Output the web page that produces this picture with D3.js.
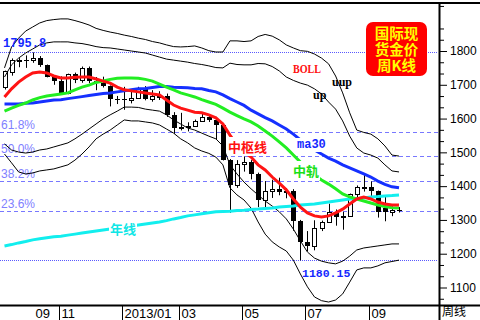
<!DOCTYPE html>
<html>
<head>
<meta charset="utf-8">
<title>国际现货金价周K线</title>
<script src="https://cdnjs.cloudflare.com/ajax/libs/d3/7.8.5/d3.min.js"></script>
<style>
  body { margin: 0; background: #fff; }
  svg { display: block; }
  .yax text { font: 12px Arial, "Liberation Sans", sans-serif; fill: #000; }
  .mon { font: 13px Arial, "Liberation Sans", sans-serif; fill: #000; }
</style>
</head>
<body>
<script>
// weekly bars (week ending), last one is the running week
var weeks = ["2012-09-07","2012-09-14","2012-09-21","2012-09-28","2012-10-05","2012-10-12","2012-10-19","2012-10-26",
  "2012-11-02","2012-11-09","2012-11-16","2012-11-23","2012-11-30","2012-12-07","2012-12-14","2012-12-21","2012-12-28",
  "2013-01-04","2013-01-11","2013-01-18","2013-01-25","2013-02-01","2013-02-08","2013-02-15","2013-02-22",
  "2013-03-01","2013-03-08","2013-03-15","2013-03-22","2013-03-29","2013-04-05","2013-04-12","2013-04-19","2013-04-26",
  "2013-05-03","2013-05-10","2013-05-17","2013-05-24","2013-05-31","2013-06-07","2013-06-14","2013-06-21","2013-06-28",
  "2013-07-05","2013-07-12","2013-07-19","2013-07-26","2013-08-02","2013-08-09","2013-08-16","2013-08-23","2013-08-30",
  "2013-09-06","2013-09-13","2013-09-20","2013-09-27","2013-09-30"];

var open  = [1693,1739,1770,1773,1772,1780,1758,1724,1712,1676,1731,1713,1751,1712,1705,1696,1657,1657,1656,1662,1687,1658,1667,1667,1610,1573,1576,1577,1592,1606,1596,1580,1477,1403,1467,1470,1437,1360,1386,1393,1383,1387,1297,1234,1223,1277,1295,1322,1310,1313,1377,1396,1396,1386,1334,1324,1330];
var high  = [1742,1778,1779,1787,1795.8,1785,1760,1727,1725,1733,1736,1754,1754,1723,1724,1698,1667,1694,1679,1694,1696,1684,1681,1674,1619,1617,1589,1597,1617,1612,1605,1587,1480,1477,1488,1477,1440,1415,1419,1425,1394,1391,1300,1267,1299,1298,1348,1331,1324,1378,1402,1434,1414,1387,1372,1340,1338];
var low   = [1686,1727,1752,1750,1765,1753,1722,1700,1675,1672,1705,1706,1705,1684,1692,1636,1643,1626,1645,1660,1654,1650,1655,1605,1555,1565,1562,1575,1590,1590,1539,1476,1321,1395,1443,1420,1338,1338,1365,1373,1364,1268,1180.15,1207,1210,1267,1292,1283,1271,1313,1361,1384,1364,1307,1296,1311,1322];
var close = [1740,1772,1773,1772,1780,1758,1724,1712,1676,1731,1713,1751,1712,1705,1696,1657,1656,1656,1662,1687,1658,1667,1667,1610,1573,1576,1577,1592,1606,1596,1580,1477,1403,1467,1470,1437,1360,1386,1393,1383,1387,1297,1234,1223,1277,1295,1322,1310,1313,1377,1396,1396,1386,1322,1324,1330,1328];

// BOLL: outer upper (uup), upper (up), middle (中轨), lower, outer lower
var bollUUp = [1750,1812,1838,1859,1871,1883,1890,1893,1895,1895,1890,1884,1877,1867,1861,1856,1852,1847,1843,1838,1834,1828,1824,1818,1813,1812,1813,1815,1809,1801,1797,1797,1830,1830,1828,1830,1843,1849,1844,1833,1818,1809,1801,1799,1791,1779,1762,1726,1676,1617,1566,1559,1554,1540,1519,1492,1489];
var bollUp  = [1723,1759,1779,1794,1806,1818,1824,1827,1827,1827,1824,1822,1818,1813,1810,1809,1806,1803,1800,1797,1794,1788,1782,1776,1773,1770,1767,1763,1760,1756,1751,1750,1764,1760,1759,1759,1763,1762,1754,1741,1723,1713,1705,1699,1688,1673,1649,1628,1593,1548,1513,1498,1492,1483,1463,1445,1442];
var bollMid = [1622,1631,1639,1646,1655,1662,1667,1670,1673,1676,1685,1693,1699,1707,1711,1716,1719,1720,1720,1719,1716,1711,1702,1693,1685,1676,1670,1664,1656,1649,1642,1631,1619,1609,1599,1590,1578,1563,1548,1531,1513,1492,1471,1451,1433,1418,1406,1392,1377,1368,1362,1356,1350,1344,1340,1336,1335];
var bollDn  = [1525,1507,1501,1498,1501,1507,1510,1516,1522,1528,1540,1554,1569,1584,1599,1611,1622,1634,1634,1633,1628,1625,1622,1611,1596,1584,1572,1566,1557,1548,1540,1519,1463,1436,1412,1392,1374,1356,1341,1324,1303,1273,1238,1205,1187,1178,1173,1170,1178,1193,1211,1217,1220,1223,1226,1229,1229];
var bollDDn = [1495,1469,1442,1436,1439,1445,1448,1451,1457,1463,1477,1495,1516,1540,1554,1566,1581,1596,1593,1593,1590,1587,1581,1569,1557,1540,1528,1513,1504,1497,1486,1463,1395,1374,1359,1335,1294,1258,1235,1220,1208,1181,1140,1102,1072,1061,1057,1063,1081,1116,1152,1158,1158,1164,1173,1177,1181];

var maRed  = [1664,1688,1708,1723,1735,1738,1735,1726,1720,1720,1722,1723,1723,1717,1711,1705,1693,1685,1682,1679,1676,1673,1670,1655,1640,1631,1625,1619,1617,1611,1602,1584,1551,1522,1501,1486,1463,1448,1427,1409,1389,1362,1338,1321,1312,1309,1312,1321,1332,1347,1362,1368,1362,1353,1347,1344,1344];
var ma30   = [1643,1643,1643,1645,1646,1649,1652,1655,1656,1659,1662,1665,1668,1671,1674,1676,1679,1682,1685,1688,1689,1692,1695,1695,1693,1692,1691,1689,1688,1683,1679,1670,1659,1649,1639,1625,1614,1603,1593,1581,1569,1554,1537,1522,1507,1495,1483,1474,1463,1454,1445,1436,1427,1415,1405,1398,1395];
var maYear = [1223,1227,1232,1236,1241,1244,1247,1250,1252,1255,1258,1261,1264,1267,1270,1273,1276,1279,1282,1285,1288,1291,1294,1298,1303,1307,1312,1315,1318,1321,1324,1325,1326,1328,1329,1331,1332,1334,1335,1338,1340,1341,1344,1346,1347,1350,1353,1356,1359,1362,1363,1365,1368,1369,1371,1372,1374];

var swingHigh = 1795.8, swingLow = 1180.15;
var fibLabels = ["61.8%", "50.0%", "38.2%", "23.6%"];
var fibLevels = [1560.6, 1488.0, 1415.3, 1325.4];

var priceTicks = [1100, 1200, 1300, 1400, 1500, 1600, 1700, 1800];
var monthLabels = ["09", "11", "2013/01", "03", "05", "07", "09"];
var monthWeek = [null, 8, 17, 25, 34, 43, 52];
var titleLines = ["国际现", "货金价", "周K线"];

var W = 480, H = 320, plotR = 439, plotB = 305;

var svg = d3.select("body").append("svg").attr("width", W).attr("height", H);

var n = weeks.length;
var x = d3.scaleLinear().domain([0, n - 1]).range([4.5, 4.5 + 7.045 * (n - 1)]);
var y = d3.scaleLinear().domain([1100, 1800]).range([287.5, 51]);
var idx = d3.range(n);
var cx = function(i) { return Math.round(x(i)); };

svg.append("defs").append("clipPath").attr("id", "clip")
  .append("rect").attr("x", 0).attr("y", 4).attr("width", plotR - 1).attr("height", plotB - 4);
var g = svg.append("g").attr("clip-path", "url(#clip)");

// fibonacci levels
g.selectAll("line.fib").data(fibLevels).join("line")
  .attr("class", "fib")
  .attr("x1", 0).attr("x2", plotR)
  .attr("y1", function(d) { return Math.round(y(d)) + 0.5; })
  .attr("y2", function(d) { return Math.round(y(d)) + 0.5; })
  .attr("stroke", "#7878ff").attr("stroke-dasharray", "4,3");
g.selectAll("text.fib").data(fibLabels).join("text")
  .attr("class", "fib")
  .attr("x", 1).attr("y", function(d, i) { return Math.round(y(fibLevels[i])) - 3; })
  .attr("fill", "#8080ff")
  .style("font", "12px Arial, 'Liberation Sans', sans-serif")
  .text(function(d) { return d; });

// swing high / low
g.selectAll("line.ext").data([swingHigh, swingLow]).join("line")
  .attr("class", "ext")
  .attr("x1", 0).attr("x2", plotR)
  .attr("y1", function(d) { return Math.round(y(d)) + 0.5; })
  .attr("y2", function(d) { return Math.round(y(d)) + 0.5; })
  .attr("stroke", "#5a5aff").attr("stroke-dasharray", "1,1");

// candles
g.selectAll("line.wick").data(idx).join("line")
  .attr("class", "wick")
  .attr("x1", function(i) { return cx(i) + 0.5; })
  .attr("x2", function(i) { return cx(i) + 0.5; })
  .attr("y1", function(i) { return y(high[i]); })
  .attr("y2", function(i) { return y(low[i]); })
  .attr("stroke", "#000");
g.selectAll("rect.body").data(idx).join("rect")
  .attr("class", "body")
  .each(function(i) {
    var up = close[i] >= open[i];
    var top = Math.round(y(Math.max(open[i], close[i])));
    var bot = Math.round(y(Math.min(open[i], close[i])));
    var r = d3.select(this);
    if (up) {
      r.attr("x", cx(i) - 1.5).attr("y", top + 0.5).attr("width", 4).attr("height", Math.max(bot - top, 1))
       .attr("fill", "#fff").attr("stroke", "#000");
    } else {
      r.attr("x", cx(i) - 2).attr("y", top).attr("width", 5).attr("height", Math.max(bot - top, 1))
       .attr("fill", "#000");
    }
  });

var line = d3.line().x(function(d, i) { return x(i); }).y(function(d) { return y(d); });

g.selectAll("path.band").data([bollUUp, bollUp, bollDn, bollDDn]).join("path")
  .attr("class", "band").attr("d", line)
  .attr("fill", "none").attr("stroke", "#000").attr("stroke-width", 1);

var maColors = ["#12eeee", "#1530ff", "#22ee22", "#ff1414"];
g.selectAll("path.ma").data([maYear, ma30, bollMid, maRed]).join("path")
  .attr("class", "ma").attr("d", line)
  .attr("fill", "none").attr("stroke-width", 3)
  .attr("stroke", function(d, i) { return maColors[i]; });

// labels on the chart
function tag(txt, px, py, color, font, bg, len) {
  var t = g.append("text").attr("x", px).attr("y", py).attr("fill", color).style("font", font).text(txt);
  if (len) t.attr("textLength", len).attr("lengthAdjust", "spacingAndGlyphs");
  if (bg) {
    var b = t.node().getBBox();
    g.insert("rect", function() { return t.node(); })
      .attr("x", b.x - 1).attr("y", b.y).attr("width", b.width + 2).attr("height", b.height)
      .attr("fill", "#fff");
  }
  return t;
}
var mono = "bold 12px 'Liberation Mono', 'DejaVu Sans Mono', monospace";
var serif = "bold 12px 'Liberation Serif', 'DejaVu Serif', serif";
var cjk = "bold 13px 'Noto Sans CJK SC', sans-serif";

tag("1795.8", 3, 47, "#1428ff", mono);
tag("1180.15", 302, 277, "#1428ff", "bold 11.5px 'Liberation Mono', 'DejaVu Sans Mono', monospace");
tag("BOLL", 293, 73, "#ff1010", "bold 13px 'Liberation Serif', 'DejaVu Serif', serif", false, 28);
tag("uup", 332, 86, "#000", serif);
tag("up", 313, 99, "#000", serif);
tag("ma30", 297, 148, "#1428ff", mono, true);
tag("中枢线", 228, 152, "#ff1010", cjk, true);
tag("中轨", 293, 176, "#18e018", cjk, true);
tag("年线", 110, 234, "#10e6e6", cjk, true);

// title box
svg.append("rect").attr("x", 366).attr("y", 22).attr("width", 61).attr("height", 54).attr("rx", 7)
  .attr("fill", "#ff0000");
svg.append("text")
  .attr("text-anchor", "middle").attr("fill", "#ffff00")
  .style("font", "bold 14.5px 'Noto Sans CJK SC', sans-serif")
  .selectAll("tspan").data(titleLines).join("tspan")
  .attr("x", 396.5).attr("y", function(d, i) { return 39 + i * 16; })
  .text(function(d) { return d; });

// frame
svg.append("line").attr("x1", 0).attr("x2", W).attr("y1", 3).attr("y2", 3).attr("stroke", "#000").attr("stroke-width", 2);
svg.append("line").attr("x1", 0).attr("x2", W).attr("y1", 305.5).attr("y2", 305.5).attr("stroke", "#000").attr("stroke-width", 2);
svg.append("line").attr("x1", 439.5).attr("x2", 439.5).attr("y1", 2).attr("y2", H).attr("stroke", "#000").attr("stroke-width", 2);

// price axis
var yAxis = d3.axisRight(y).tickValues(priceTicks).tickSize(7).tickPadding(3).tickFormat(d3.format("d"));
var ya = svg.append("g").attr("class", "yax").attr("transform", "translate(440,0)").call(yAxis);
ya.select(".domain").remove();
var minor = d3.range(32, 59).map(function(k) { return k * 100 / 3; }).filter(function(v, k) { return (k + 32) % 3 !== 0; });
var ym = svg.append("g").attr("transform", "translate(440,0)")
  .call(d3.axisRight(y).tickValues(minor).tickSize(4).tickFormat(""));
ym.select(".domain").remove();

// month axis
var sep = monthWeek.map(function(w) { return w === null ? null : Math.round(x(w)) - 1.5; });
svg.selectAll("line.sep").data(sep.filter(function(s) { return s !== null; })).join("line")
  .attr("class", "sep")
  .attr("x1", function(d) { return d; }).attr("x2", function(d) { return d; })
  .attr("y1", 306).attr("y2", H).attr("stroke", "#000");
svg.selectAll("text.mon").data(monthLabels).join("text")
  .attr("class", "mon")
  .attr("x", function(d, i) { return sep[i] === null ? 50 : sep[i] + 2; })
  .attr("text-anchor", function(d, i) { return sep[i] === null ? "end" : "start"; })
  .attr("y", 318)
  .text(function(d) { return d; });
svg.append("text").attr("x", 442).attr("y", 316)
  .style("font", "12px 'Noto Sans CJK SC', sans-serif").attr("fill", "#000").text("周线");
</script>
</body>
</html>
